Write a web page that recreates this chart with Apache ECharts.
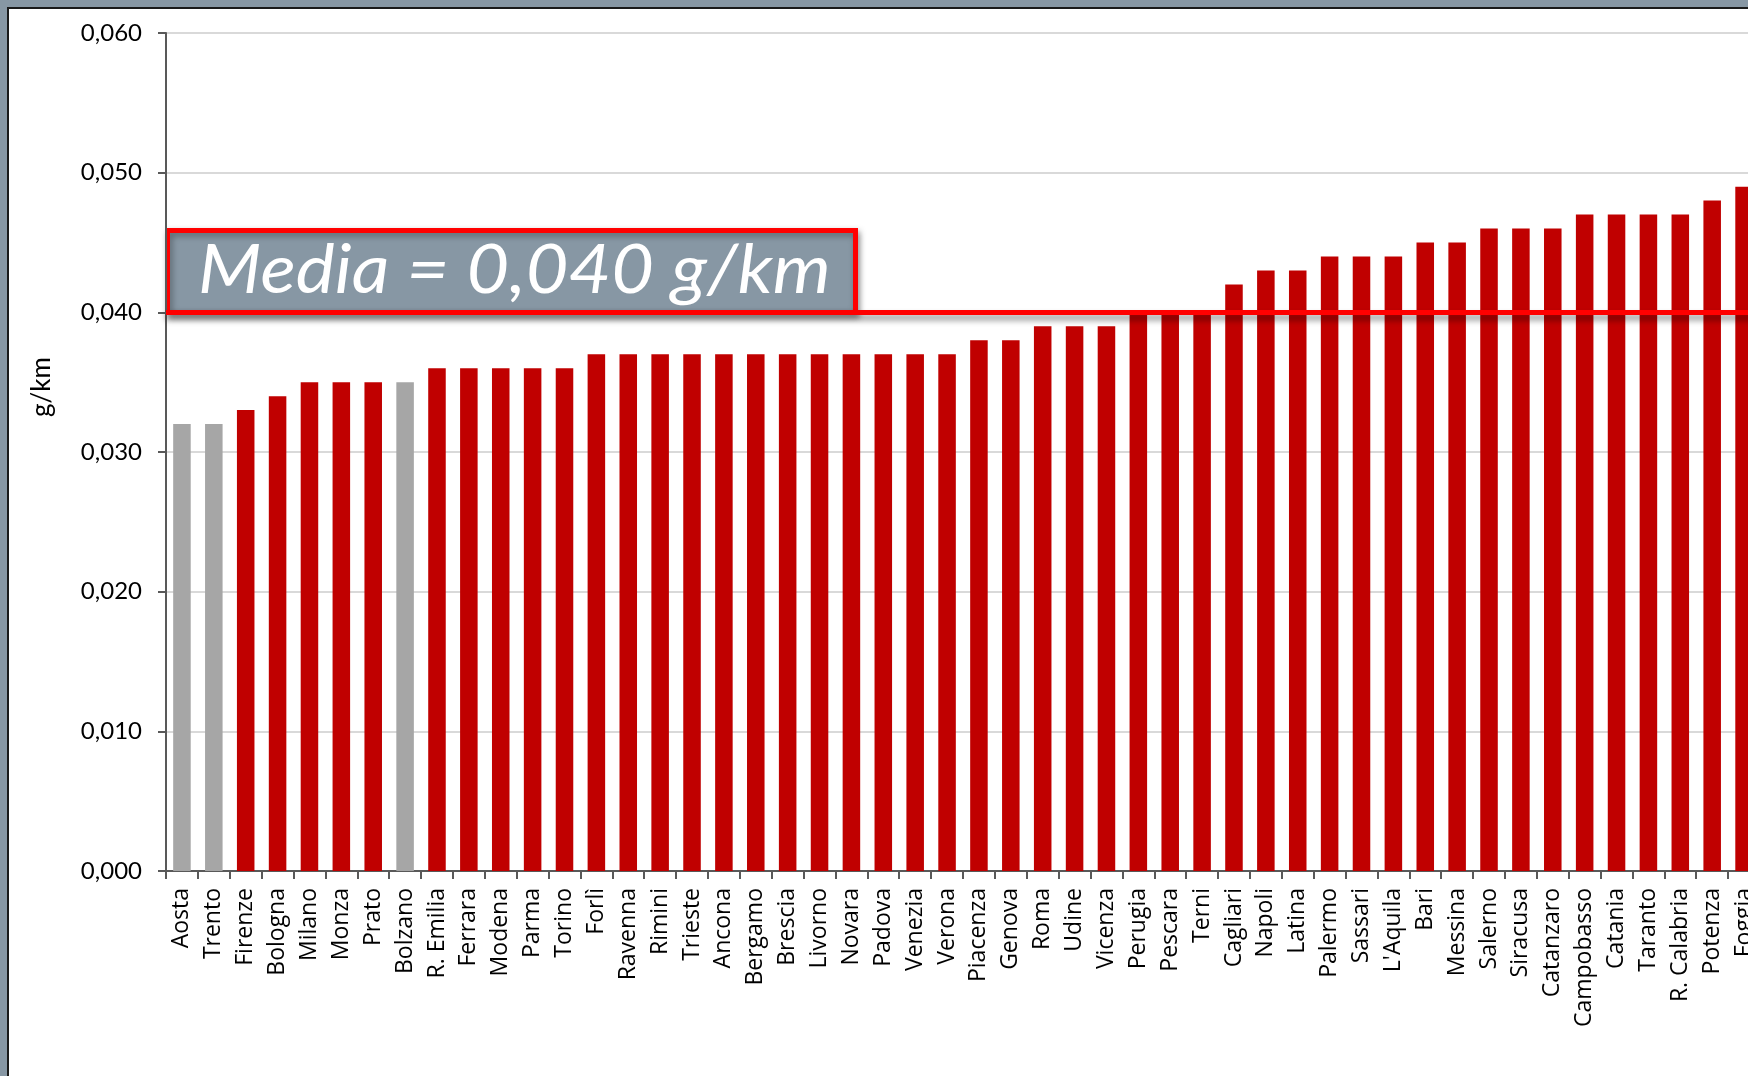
<!DOCTYPE html>
<html>
<head>
<meta charset="utf-8">
<script src="https://cdn.jsdelivr.net/npm/echarts@6/dist/echarts.min.js"></script>
<style>
  html, body { margin: 0; padding: 0; width: 1748px; height: 1076px; overflow: hidden; background: #8797a4; }
  #frame { position: absolute; left: 7px; top: 7px; width: 1800px; height: 1200px; background: #ffffff; border-left: 2px solid #1a1a1a; border-top: 2px solid #1a1a1a; }
  #chart { position: absolute; left: 0; top: 0; width: 1748px; height: 1076px; }
</style>
</head>
<body>
<div id="frame"></div>
<div id="chart"></div>
<script>
const cities = ["Aosta","Trento","Firenze","Bologna","Milano","Monza","Prato","Bolzano","R. Emilia","Ferrara","Modena","Parma","Torino","Forlì","Ravenna","Rimini","Trieste","Ancona","Bergamo","Brescia","Livorno","Novara","Padova","Venezia","Verona","Piacenza","Genova","Roma","Udine","Vicenza","Perugia","Pescara","Terni","Cagliari","Napoli","Latina","Palermo","Sassari","L'Aquila","Bari","Messina","Salerno","Siracusa","Catanzaro","Campobasso","Catania","Taranto","R. Calabria","Potenza","Foggia"];
const values = [0.032,0.032,0.033,0.034,0.035,0.035,0.035,0.035,0.036,0.036,0.036,0.036,0.036,0.037,0.037,0.037,0.037,0.037,0.037,0.037,0.037,0.037,0.037,0.037,0.037,0.038,0.038,0.039,0.039,0.039,0.040,0.040,0.040,0.042,0.043,0.043,0.044,0.044,0.044,0.045,0.045,0.046,0.046,0.046,0.047,0.047,0.047,0.047,0.048,0.049];
const grayCities = ["Aosta","Trento","Bolzano"];
const average = 0.040;
const averageLabel = "Media = 0,040 g/km";
const yTicks = [0, 0.01, 0.02, 0.03, 0.04, 0.05, 0.06];
const yAxisTitle = "g/km";

const chart = echarts.init(document.getElementById('chart'), null, { renderer: 'canvas' });
const fmt = v => v.toFixed(3).replace('.', ',');

const option = {
  backgroundColor: 'transparent',
  animation: false,
  grid: {
    left: 166, top: 33, width: 1594, height: 838,
    containLabel: false,
    outerBoundsMode: 'none',
    show: true, borderColor: '#7f7f7f', borderWidth: 2, backgroundColor: 'transparent'
  },
  xAxis: {
    type: 'category',
    data: cities,
    boundaryGap: true,
    axisLine: { lineStyle: { color: '#595959', width: 2 } },
    axisTick: { show: true, length: 8, lineStyle: { color: '#595959', width: 2 }, alignWithLabel: false, interval: 0 },
    axisLabel: { interval: 0, rotate: 90, margin: 17, fontFamily: 'Open Sans', fontSize: 23, color: '#000' }
  },
  yAxis: {
    type: 'value',
    min: yTicks[0], max: yTicks[yTicks.length - 1], interval: 0.01,
    axisLine: { show: true, lineStyle: { color: '#595959', width: 2 } },
    axisTick: { show: true, length: 8, lineStyle: { color: '#595959', width: 2 } },
    axisLabel: { margin: 24, fontFamily: 'Lato', fontSize: 24, color: '#000', formatter: fmt },
    splitLine: { show: true, lineStyle: { color: '#d9d9d9', width: 2 } }
  },
  series: [{
    type: 'bar',
    barCategoryGap: '45%',
    data: values.map((v, i) => ({
      value: v,
      itemStyle: { color: grayCities.includes(cities[i]) ? '#a6a6a6' : '#c00000' }
    })),
    markLine: {
      silent: true,
      symbol: ['none', 'none'],
      label: { show: false },
      lineStyle: { color: '#ff0000', width: 5, opacity: 1, type: 'solid', shadowColor: 'rgba(0,0,0,0.45)', shadowBlur: 6, shadowOffsetY: 5 },
      data: [{ yAxis: average }]
    }
  }],
  graphic: [
    {
      type: 'text',
      x: 42, y: 387,
      rotation: Math.PI / 2,
      style: { text: yAxisTitle, font: '26px Lato', fill: '#000', align: 'center', verticalAlign: 'middle' }
    },
    {
      type: 'group',
      z: 100,
      children: [
        {
          type: 'rect',
          shape: { x: 167.5, y: 230.5, width: 688, height: 82 },
          style: { fill: '#8797a4', stroke: '#ff0000', lineWidth: 5, shadowColor: 'rgba(0,0,0,0.35)', shadowBlur: 6, shadowOffsetY: 3, shadowOffsetX: 2 }
        },
        {
          type: 'text',
          x: 198, y: 271,
          scaleX: 1.1,
          style: { x: 0, y: 0, text: averageLabel, font: 'italic 67px Lato', fill: '#ffffff', align: 'left', verticalAlign: 'middle' }
        }
      ]
    }
  ]
};
chart.setOption(option);
</script>
</body>
</html>
